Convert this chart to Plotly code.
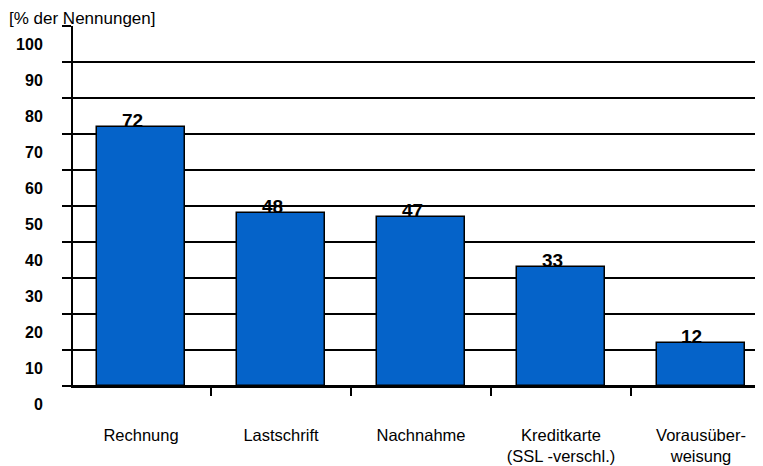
import plotly.graph_objects as go

categories = ["Rechnung", "Lastschrift", "Nachnahme", "Kreditkarte<br>(SSL -verschl.)", "Vorausüber-<br>weisung"]
values = [72, 48, 47, 33, 12]
y_ticks = [0, 10, 20, 30, 40, 50, 60, 70, 80, 90, 100]
y_title = "[% der Nennungen]"

xs = list(range(len(categories)))
font = "Liberation Sans, Arial, sans-serif"

fig = go.Figure()
fig.add_trace(go.Bar(
    x=xs, y=values, width=0.63,
    marker=dict(color="#0563C9", line=dict(color="black", width=1.5)),
    hoverinfo="skip",
))

for x, v in zip(xs, values):
    fig.add_annotation(x=x, y=v, text=str(v), showarrow=False,
                       xanchor="center", yanchor="bottom", xshift=-9, yshift=-6,
                       font=dict(family=font, size=19, color="black", weight="bold"))

fig.add_annotation(xref="paper", yref="paper", x=-0.095, y=1.0, xanchor="left", yanchor="bottom",
                   text=y_title, showarrow=False, yshift=-4,
                   font=dict(family=font, size=17, color="black"))

fig.update_layout(
    width=755, height=458,
    margin=dict(l=65, r=0, t=18, b=80, autoexpand=False),
    paper_bgcolor="white", plot_bgcolor="white",
    showlegend=False,
    font=dict(family=font, color="black"),
    bargap=0,
)
fig.update_xaxes(
    automargin=False,
    range=[-0.486, 4.443],
    tickvals=xs, ticktext=categories, ticks="",
    tickfont=dict(family=font, size=16.5, color="black"),
    ticklabelstandoff=33,
    showgrid=False, zeroline=False,
    showline=True, linecolor="black", linewidth=2,
    minor=dict(tick0=0.5, dtick=1, ticks="outside", ticklen=8, tickcolor="black", tickwidth=1.5, showgrid=False),
)
fig.update_yaxes(
    automargin=False,
    range=[0, 100],
    tickvals=y_ticks, ticktext=[str(t) for t in y_ticks],
    tickfont=dict(family=font, size=16, color="black", weight="bold"),
    ticks="outside", ticklen=9, tickcolor="black", tickwidth=1.5,
    ticklabelshift=18, ticklabelstandoff=16,
    showgrid=True, gridcolor="black", gridwidth=1.5,
    zeroline=True, zerolinecolor="black", zerolinewidth=2,
    showline=True, linecolor="black", linewidth=2,
)

fig.write_html("out.html")
